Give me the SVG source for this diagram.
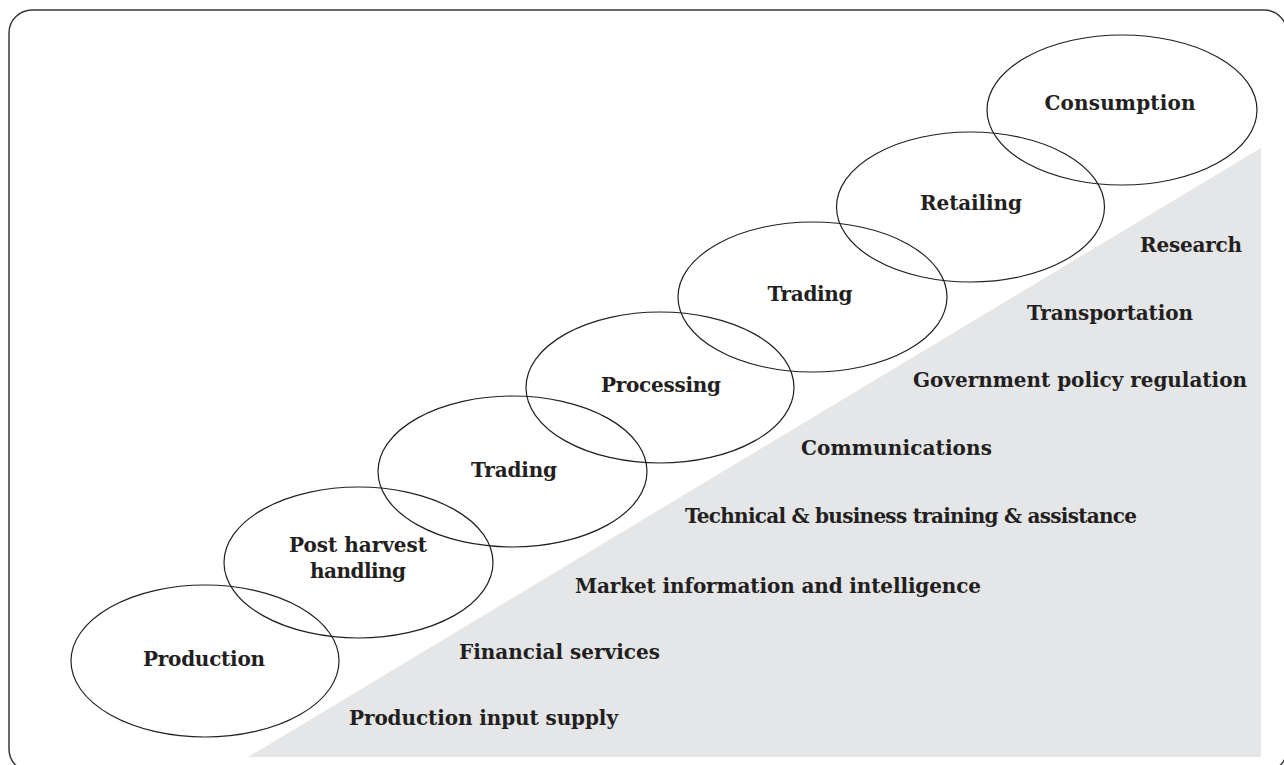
<svg xmlns="http://www.w3.org/2000/svg" width="1284" height="765" viewBox="0 0 1284 765">
<style>
.node ellipse{fill:none;stroke:#231f20;stroke-width:1.2}
text{font-family:"DejaVu Serif","Liberation Serif",serif;font-weight:bold;font-size:20px;fill:#231f20}
.c{text-anchor:middle}
</style>
<rect x="0" y="0" width="1284" height="765" fill="#ffffff"/>
<rect x="9" y="10" width="1278" height="762" rx="23" ry="23" fill="none" stroke="#3a3a3a" stroke-width="1.5"/>
<polygon points="248,757 1261,148 1261,757" fill="#e5e6e8"/>
<g id="services">
<text x="1140" y="252" textLength="102">Research</text>
<text x="1027" y="320" textLength="166">Transportation</text>
<text x="913" y="387" textLength="334">Government policy regulation</text>
<text x="801" y="455" textLength="191">Communications</text>
<text x="685" y="523" textLength="452">Technical &amp; business training &amp; assistance</text>
<text x="575" y="593" textLength="406">Market information and intelligence</text>
<text x="459" y="659" textLength="201">Financial services</text>
<text x="349" y="725" textLength="269">Production input supply</text>
</g>
<g id="connectors"></g>
<g id="n-production" class="node"><ellipse cx="205" cy="661" rx="134" ry="76"/><text class="c" x="204" y="666" textLength="122">Production</text></g>
<g id="n-postharvest" class="node"><ellipse cx="358.5" cy="562.5" rx="134.5" ry="75.5"/><text class="c" x="358" y="552" textLength="138">Post harvest</text><text class="c" x="358" y="578" textLength="96">handling</text></g>
<g id="n-trading1" class="node"><ellipse cx="512.5" cy="471.5" rx="134.5" ry="75.5"/><text class="c" x="514" y="477" textLength="86">Trading</text></g>
<g id="n-processing" class="node"><ellipse cx="660" cy="387.5" rx="134" ry="75.5"/><text class="c" x="661" y="392" textLength="120">Processing</text></g>
<g id="n-trading2" class="node"><ellipse cx="812.5" cy="297" rx="134.5" ry="75"/><text class="c" x="810" y="301" textLength="85">Trading</text></g>
<g id="n-retailing" class="node"><ellipse cx="970.5" cy="207" rx="134" ry="75"/><text class="c" x="971" y="210" textLength="102">Retailing</text></g>
<g id="n-consumption" class="node"><ellipse cx="1122" cy="110" rx="135" ry="75"/><text class="c" x="1120" y="110" textLength="151">Consumption</text></g>
</svg>
